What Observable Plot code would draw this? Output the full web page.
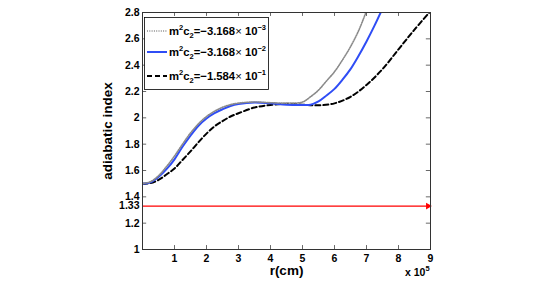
<!DOCTYPE html>
<html><head><meta charset="utf-8">
<script src="https://cdn.jsdelivr.net/npm/d3@7"></script>
<script src="https://cdn.jsdelivr.net/npm/@observablehq/plot@0.6"></script>
<style>body{margin:0;background:#fff}</style>
</head><body><div id="chart"></div>
<script>
const rDotted = [0,0.25,0.5,0.75,1,1.25,1.5,1.75,2,2.25,2.5,2.75,3,3.5,4,4.5,5,5.25,5.5,5.75,6,6.25,6.5,6.75,7,7.25];
const gDotted = [1.50,1.515,1.56,1.63,1.71,1.80,1.885,1.955,2.01,2.05,2.08,2.10,2.112,2.12,2.115,2.112,2.12,2.16,2.21,2.28,2.35,2.44,2.54,2.66,2.81,2.95];
const rSolid = [0,0.25,0.5,0.75,1,1.25,1.5,1.75,2,2.25,2.5,2.75,3,3.5,4,4.5,5,5.25,5.5,5.75,6,6.25,6.5,6.75,7,7.25,7.5];
const gSolid = [1.50,1.51,1.55,1.61,1.685,1.78,1.865,1.94,1.995,2.035,2.065,2.09,2.105,2.117,2.11,2.10,2.098,2.10,2.125,2.17,2.22,2.29,2.37,2.47,2.58,2.70,2.83];
const rDashed = [0,0.25,0.5,0.75,1,1.25,1.5,1.75,2,2.25,2.5,2.75,3,3.5,4,4.5,5,5.5,6,6.5,7,7.5,8,8.5,9];
const gDashed = [1.50,1.505,1.528,1.57,1.615,1.68,1.745,1.815,1.88,1.935,1.975,2.01,2.035,2.078,2.098,2.106,2.10,2.095,2.11,2.16,2.25,2.37,2.52,2.67,2.81];
const seriesLabels = [["−3.168","−3"],["−3.168","−2"],["−1.584","−1"]];
const xTicks = [1,2,3,4,5,6,7,8,9];
const yTicks = [1,1.2,1.33,1.4,1.6,1.8,2,2.2,2.4,2.6,2.8];
const yInnerTicks = [1.2,1.4,1.6,1.8,2,2.2,2.4,2.6];
const refLevel = 1.33;

const toRows = (r, g) => r.map((x, i) => ({r: x, g: g[i]}));
const dotted = toRows(rDotted, gDotted);
const solid = toRows(rSolid, gSolid);
const dashed = toRows(rDashed, gDashed);

const FONT = "'Liberation Sans', Arial, Helvetica, sans-serif";
const DOT = {stroke: "#8a8a8a", w: 1.6, dash: "1,1.3"};
const plot = Plot.plot({
  width: 545, height: 281,
  marginLeft: 142, marginRight: 115, marginTop: 12, marginBottom: 32,
  style: {fontFamily: FONT, fontSize: "10.5px", fontWeight: "bold", color: "#000", background: "#fff"},
  x: {domain: [0, 9]},
  y: {domain: [1, 2.8]},
  marks: [
    Plot.ruleY([refLevel], {x1: 0, x2: 9, stroke: "#ff0000", strokeWidth: 1.3}),
    Plot.dot([{r: 9, g: refLevel}], {x: "r", y: "g", symbol: "triangle2", rotate: 90, r: 3.2, fill: "#ff0000", dx: -2.5}),
    Plot.line(dashed, {x: "r", y: "g", stroke: "#000", strokeWidth: 2, strokeDasharray: "5,3", curve: "catmull-rom", clip: true}),
    Plot.line(solid, {x: "r", y: "g", stroke: "#2f4df5", strokeWidth: 2, curve: "catmull-rom", clip: true}),
    Plot.line(dotted, {x: "r", y: "g", stroke: DOT.stroke, strokeWidth: DOT.w, strokeDasharray: DOT.dash, curve: "catmull-rom", clip: true}),
    Plot.ruleX(xTicks, {x: d => d, y1: 1, y2: 1.03, stroke: "#444", strokeWidth: 0.8}),
    Plot.ruleX(xTicks, {x: d => d, y1: 2.77, y2: 2.8, stroke: "#444", strokeWidth: 0.8}),
    Plot.ruleY(yInnerTicks, {y: d => d, x1: 0, x2: 0.13, stroke: "#444", strokeWidth: 0.8}),
    Plot.ruleY(yInnerTicks, {y: d => d, x1: 8.87, x2: 9, stroke: "#444", strokeWidth: 0.8}),
    Plot.frame({stroke: "#333", strokeWidth: 1}),
    Plot.axisX({ticks: xTicks, tickSize: 0, tickPadding: 5, tickFormat: d => String(d), label: null}),
    Plot.axisY({ticks: yTicks, tickSize: 0, tickPadding: 3, tickFormat: d => String(d), label: null}),
    Plot.text(["adiabatic index"], {frameAnchor: "left", dx: -35, rotate: -90, textAnchor: "middle", lineAnchor: "middle", fontSize: 13.5, fontWeight: "bold", text: d => d}),
    Plot.text(["r(cm)"], {frameAnchor: "bottom", dy: 25, textAnchor: "middle", lineAnchor: "bottom", fontSize: 13.5, fontWeight: "bold", text: d => d})
  ]
});
document.getElementById("chart").appendChild(plot);

// legend and exponent label
const svg = d3.select(plot);
const lg = svg.append("g").attr("font-family", FONT).attr("font-weight", "bold").attr("fill", "#000").attr("text-anchor", "start");
lg.append("rect").attr("x", 144.5).attr("y", 17.5).attr("width", 124).attr("height", 72)
  .attr("fill", "#fff").attr("stroke", "#000").attr("stroke-width", 0.8);
const styles = [
  DOT,
  {stroke: "#2f4df5", w: 2, dash: null},
  {stroke: "#000", w: 2, dash: "5,3"}
];
const rowsY = [31, 52, 76];
seriesLabels.forEach((lab, i) => {
  const y = rowsY[i];
  const ln = lg.append("line").attr("x1", 147).attr("x2", 167).attr("y1", y).attr("y2", y)
    .attr("stroke", styles[i].stroke).attr("stroke-width", styles[i].w);
  if (styles[i].dash) ln.attr("stroke-dasharray", styles[i].dash);
  const t = lg.append("text").attr("x", 169).attr("y", y + 4).attr("font-size", 11.3);
  t.append("tspan").text("m");
  t.append("tspan").attr("font-size", 7.5).attr("dy", -5).text("2");
  t.append("tspan").attr("dy", 5).text("c");
  t.append("tspan").attr("font-size", 7.5).attr("dy", 3).text("2");
  t.append("tspan").attr("dy", -3).text("=" + lab[0]);
  t.append("tspan").attr("font-weight", "normal").text("×");
  t.append("tspan").text(" 10");
  t.append("tspan").attr("font-size", 7.5).attr("dy", -5).text(lab[1]);
});
const ex = svg.append("text").attr("x", 405).attr("y", 276).attr("font-family", FONT).attr("text-anchor", "start")
  .attr("font-weight", "bold").attr("font-size", 10.5).attr("fill", "#000");
ex.append("tspan").text("x 10");
ex.append("tspan").attr("font-size", 7.5).attr("dy", -5).text("5");
</script>
</body></html>
